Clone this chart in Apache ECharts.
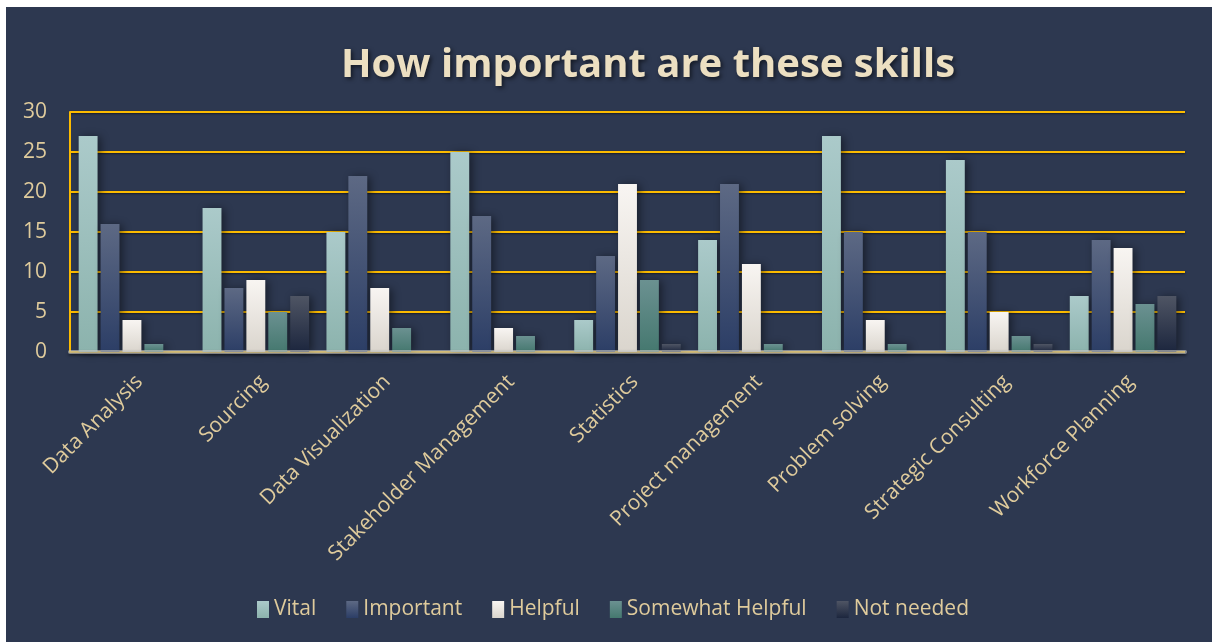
<!DOCTYPE html>
<html>
<head>
<meta charset="utf-8">
<script src="https://cdn.jsdelivr.net/npm/echarts@6/dist/echarts.min.js"></script>
<style>
  html, body { margin: 0; padding: 0; background: #ffffff; }
  #panel { position: absolute; left: 6px; top: 7px; width: 1206px; height: 635px; background: #2d3850; }
  #chart { position: absolute; left: 0; top: 0; width: 1212px; height: 642px; }
</style>
</head>
<body>
<div id="panel"></div>
<div id="chart"></div>
<script>
// Survey: how important are these skills (count of responses per rating)
const skills = [
  'Data Analysis', 'Sourcing', 'Data Visualization', 'Stakeholder Management',
  'Statistics', 'Project management', 'Problem solving', 'Strategic Consulting',
  'Workforce Planning'
];
const ratings = ['Vital', 'Important', 'Helpful', 'Somewhat Helpful', 'Not needed'];

const vital           = [27, 18, 15, 25, 4, 14, 27, 24, 7];
const important       = [16, 8, 22, 17, 12, 21, 15, 15, 14];
const helpful         = [4, 9, 8, 3, 21, 11, 4, 5, 13];
const somewhatHelpful = [1, 5, 3, 2, 9, 1, 1, 2, 6];
const notNeeded       = [0, 7, 0, 0, 1, 0, 0, 1, 7];

const yTicks = [0, 5, 10, 15, 20, 25, 30];

const values = [vital, important, helpful, somewhatHelpful, notNeeded];

// top / bottom colours of each bar gradient
const fills = [
  ['#abcaca', '#8cb3ad'],
  ['#5d6984', '#2c3e66'],
  ['#f8f5f2', '#dad5cd'],
  ['#6b9191', '#45786f'],
  ['#4f5564', '#1c263e']
];

const textColor = '#dfcb9c';
const font = '"Open Sans", "Noto Sans", sans-serif';

function grad(c) {
  return new echarts.graphic.LinearGradient(0, 0, 0, 1, [
    { offset: 0, color: c[0] },
    { offset: 1, color: c[1] }
  ]);
}

const chart = echarts.init(document.getElementById('chart'), null, { renderer: 'canvas' });

chart.setOption({
  backgroundColor: 'transparent',
  animation: false,
  title: {
    text: 'How important are these skills',
    left: 643,
    textAlign: 'center',
    top: 41,
    textStyle: {
      color: '#ecdfc1',
      fontFamily: font,
      fontWeight: 'bold',
      fontSize: 40,
      textShadowColor: 'rgba(0,0,0,0.55)',
      textShadowBlur: 4,
      textShadowOffsetX: 2,
      textShadowOffsetY: 2
    }
  },
  legend: {
    data: ratings,
    left: 252,
    top: 594,
    itemWidth: 12,
    itemHeight: 17,
    itemGap: 30,
    icon: 'rect',
    textStyle: { color: textColor, fontFamily: font, fontSize: 21 }
  },
  grid: { left: 70, right: 27, top: 112, bottom: 290, containLabel: false },
  xAxis: {
    type: 'category',
    data: skills,
    z: 5,
    axisTick: { show: false },
    axisLine: {
      show: true,
      lineStyle: {
        color: 'rgba(205,205,200,0.6)',
        width: 4,
        shadowColor: 'rgba(0,0,0,0.6)',
        shadowBlur: 3,
        shadowOffsetY: 2
      }
    },
    axisLabel: {
      interval: 0,
      rotate: 45,
      margin: 19,
      verticalAlign: 'top',
      color: textColor,
      fontFamily: font,
      fontSize: 21
    }
  },
  yAxis: {
    type: 'value',
    min: yTicks[0],
    max: yTicks[yTicks.length - 1],
    interval: yTicks[1] - yTicks[0],
    axisLine: { show: true, lineStyle: { color: '#fcbb00', width: 2 } },
    axisTick: { show: false },
    axisLabel: {
      margin: 23,
      color: textColor,
      fontFamily: font,
      fontSize: 21
    },
    splitLine: {
      show: true,
      lineStyle: {
        color: '#fcbb00',
        width: 2,
        shadowColor: 'rgba(0,0,0,0.5)',
        shadowBlur: 2,
        shadowOffsetY: 1
      }
    }
  },
  series: ratings.map((name, i) => ({
    name: name,
    type: 'bar',
    data: values[i],
    barGap: '16%',
    barCategoryGap: '14%',
    itemStyle: {
      color: grad(fills[i]),
      shadowColor: 'rgba(0,0,0,0.45)',
      shadowBlur: 8,
      shadowOffsetX: 3,
      shadowOffsetY: 1
    }
  }))
});
</script>
</body>
</html>
